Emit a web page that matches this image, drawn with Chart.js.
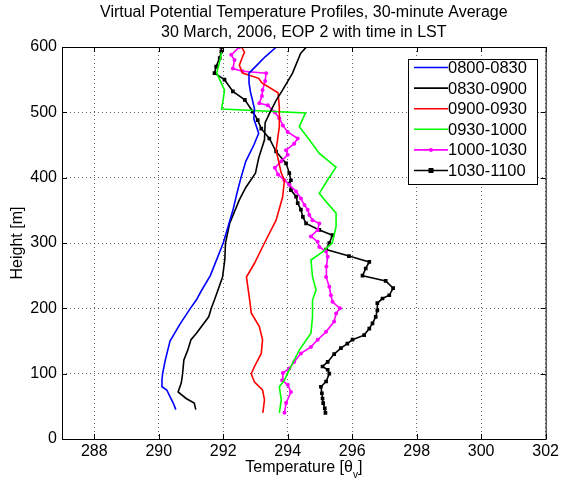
<!DOCTYPE html>
<html>
<head>
<meta charset="utf-8">
<script src="https://cdn.jsdelivr.net/npm/chart.js@4.4.0/dist/chart.umd.min.js"></script>
<style>
  html, body { margin: 0; padding: 0; background: #fff; }
</style>
</head>
<body>
<canvas id="myChart" width="562" height="483"></canvas>
<script>
// series names and colours
const seriesNames = ['0800-0830', '0830-0900', '0900-0930', '0930-1000', '1000-1030', '1030-1100'];
const seriesColors = ['#0000ff', '#000000', '#ff0000', '#00ff00', '#ff00ff', '#000000'];

const xTicks = [288, 290, 292, 294, 296, 298, 300, 302];
const yTicks = [0, 100, 200, 300, 400, 500, 600];

// height [m] / temperature pairs
const h0800 = [45, 55, 65, 75, 80, 90, 100, 120, 150, 175, 200, 213, 225, 250, 275, 300, 325, 350, 375, 400, 425, 450, 468, 490, 505, 520, 530, 545, 560, 575, 585, 600];
const t0800 = [290.53, 290.45, 290.35, 290.25, 290.1, 290.1, 290.12, 290.2, 290.35, 290.65, 290.98, 291.17, 291.3, 291.6, 291.8, 292.0, 292.15, 292.3, 292.42, 292.55, 292.7, 292.95, 293.1, 292.95, 292.97, 292.9, 292.85, 292.8, 292.8, 293.1, 293.3, 293.65];

const h0830 = [45, 55, 62, 72, 86, 100, 121, 136, 152, 162, 187, 200, 213, 248, 275, 300, 330, 366, 385, 407, 430, 458, 484, 500, 519, 534, 560, 590, 600];
const t0830 = [291.15, 291.1, 290.85, 290.6, 290.7, 290.74, 290.78, 290.9, 291.0, 291.17, 291.55, 291.63, 291.73, 291.98, 292.05, 292.07, 292.2, 292.5, 292.7, 293.0, 293.1, 293.28, 293.3, 293.45, 293.65, 293.84, 294.15, 294.4, 294.58];

const h0900 = [40, 60, 75, 87, 100, 111, 131, 152, 172, 193, 213, 248, 269, 300, 335, 370, 396, 407, 442, 478, 508, 530, 545, 552, 560, 572, 585, 592, 600];
const t0900 = [293.23, 293.28, 293.22, 292.97, 292.87, 292.97, 293.18, 293.22, 293.12, 292.87, 292.82, 292.72, 292.97, 293.28, 293.64, 293.84, 293.9, 293.8, 293.64, 293.74, 293.74, 293.7, 293.2, 293.1, 292.6, 292.5, 292.6, 292.66, 292.57];

const h0930 = [40, 60, 80, 90, 111, 136, 162, 187, 213, 228, 248, 274, 286, 300, 325, 346, 361, 376, 396, 416, 437, 458, 478, 499, 505, 520, 534, 560, 580, 592];
const t0930 = [293.74, 293.8, 293.74, 293.9, 294.1, 294.36, 294.72, 294.77, 294.77, 294.88, 294.77, 294.72, 295.07, 295.38, 295.5, 295.5, 295.23, 294.98, 295.23, 295.5, 294.98, 294.67, 294.36, 294.55, 291.95, 292.0, 292.04, 291.8, 291.9, 291.95];

const h1000 = [40, 55, 72, 83, 90, 101, 108, 118, 131, 141, 152, 164, 180, 192, 200, 210, 220, 233, 248, 264, 279, 287, 294, 302, 310, 320, 330, 335, 343, 351, 358, 368, 379, 389, 396, 405, 415, 425, 435, 442, 452, 460, 470, 480, 491, 500, 511, 514, 525, 534, 548, 560, 563, 567, 580, 588, 600];
const t1000 = [293.9, 293.95, 294.1, 294.0, 293.83, 293.85, 294.05, 294.2, 294.41, 294.72, 294.93, 295.19, 295.44, 295.5, 295.62, 295.39, 295.34, 295.29, 295.19, 295.2, 295.24, 295.19, 294.98, 294.93, 294.72, 294.93, 294.98, 294.77, 294.67, 294.62, 294.52, 294.41, 294.26, 294.05, 293.9, 293.7, 293.6, 293.8, 294.0, 293.95, 294.2, 294.31, 294.0, 293.85, 293.74, 293.6, 293.38, 293.12, 293.2, 293.22, 293.3, 293.33, 292.6, 292.3, 292.35, 292.25, 292.5];

const h1030 = [40, 47, 55, 62, 70, 80, 88, 100, 106, 111, 118, 130, 139, 146, 152, 159, 169, 177, 187, 197, 208, 215, 220, 231, 242, 250, 261, 271, 280, 290, 300, 312, 320, 330, 340, 351, 361, 371, 381, 391, 396, 407, 422, 440, 460, 475, 488, 501, 519, 532, 550, 560, 570, 583, 593, 600];
const t1030 = [295.17, 295.15, 295.1, 295.08, 295.06, 295.03, 295.19, 295.29, 295.24, 295.08, 295.24, 295.44, 295.65, 295.85, 296.01, 296.37, 296.53, 296.63, 296.73, 296.78, 296.78, 296.94, 297.15, 297.27, 297.04, 296.32, 296.42, 296.53, 295.9, 295.19, 295.29, 295.39, 294.98, 294.57, 294.47, 294.41, 294.31, 294.26, 294.1, 294.05, 294.1, 294.05, 293.95, 293.64, 293.43, 293.18, 293.07, 292.92, 292.67, 292.3, 292.04, 291.73, 291.78, 291.89, 291.94, 291.94];

const heights = [h0800, h0830, h0900, h0930, h1000, h1030];
const temps = [t0800, t0830, t0900, t0930, t1000, t1030];

const FONT = '"Liberation Sans", Arial, sans-serif';

function pts(t, h) {
  return t.map((v, i) => ({ x: v, y: h[i] }));
}

const markerStyle = [false, false, false, false, 'circle', 'rect'];

const datasets = seriesNames.map((name, i) => ({
  label: name,
  data: pts(temps[i], heights[i]),
  showLine: true,
  borderColor: seriesColors[i],
  backgroundColor: seriesColors[i],
  borderWidth: 1.6,
  tension: 0,
  pointStyle: markerStyle[i] || 'circle',
  pointRadius: markerStyle[i] === 'rect' ? 2.6 : (markerStyle[i] ? 2 : 0),
  pointBorderWidth: 0,
  pointHoverRadius: 0
}));

// title, axis labels, box with inward ticks and matlab style legend
const decorations = {
  id: 'decorations',
  afterDraw(chart) {
    const c = chart.ctx;
    const a = chart.chartArea;
    const xs = chart.scales.x, ys = chart.scales.y;
    const cx = (a.left + a.right) / 2;
    c.save();
    c.fillStyle = '#000';
    c.textAlign = 'center';
    c.textBaseline = 'middle';
    c.font = '16px ' + FONT;
    c.fillText('Virtual Potential Temperature Profiles, 30-minute Average', cx, 13);
    c.fillText('30 March, 2006, EOP 2 with time in LST', cx, 33);

    // x label with subscript
    const p1 = 'Temperature [\u03b8', p2 = ']';
    c.font = '10px ' + FONT;
    const wv = c.measureText('v').width;
    c.font = '16px ' + FONT;
    const w1 = c.measureText(p1).width, w2 = c.measureText(p2).width;
    let x0 = cx - (w1 + wv + w2) / 2;
    c.textAlign = 'left';
    c.fillText(p1, x0, 468);
    c.font = '10px ' + FONT;
    c.fillText('v', x0 + w1, 475);
    c.font = '16px ' + FONT;
    c.fillText(p2, x0 + w1 + wv, 468);

    // y label
    c.save();
    c.translate(18, 243);
    c.rotate(-Math.PI / 2);
    c.textAlign = 'center';
    c.fillText('Height [m]', 0, 0);
    c.restore();

    // frame and inward ticks
    c.strokeStyle = '#000';
    c.lineWidth = 1;
    c.strokeRect(a.left + 0.5, a.top + 0.5, a.right - a.left, a.bottom - a.top);
    c.beginPath();
    xTicks.forEach(v => {
      const px = Math.round(xs.getPixelForValue(v)) + 0.5;
      c.moveTo(px, a.bottom); c.lineTo(px, a.bottom - 5);
      c.moveTo(px, a.top); c.lineTo(px, a.top + 5);
    });
    yTicks.forEach(v => {
      const py = Math.round(ys.getPixelForValue(v)) + 0.5;
      c.moveTo(a.left, py); c.lineTo(a.left + 5, py);
      c.moveTo(a.right, py); c.lineTo(a.right - 5, py);
    });
    c.stroke();

    // legend
    const lx = 408, ly = 59, lw = 129, lh = 125;
    c.fillStyle = '#fff';
    c.fillRect(lx, ly, lw, lh);
    c.strokeRect(lx + 0.5, ly + 0.5, lw, lh);
    c.font = '16.5px ' + FONT;
    c.textAlign = 'left';
    chart.data.datasets.forEach((ds, i) => {
      const yy = 67.5 + i * 20.6;
      c.strokeStyle = ds.borderColor;
      c.lineWidth = 1.6;
      c.beginPath();
      c.moveTo(414, yy); c.lineTo(448, yy);
      c.stroke();
      c.fillStyle = ds.borderColor;
      if (markerStyle[i] === 'circle') {
        c.beginPath(); c.arc(431, yy, 2, 0, Math.PI * 2); c.fill();
      } else if (markerStyle[i] === 'rect') {
        c.fillRect(428.5, yy - 2.5, 5, 5);
      }
      c.fillStyle = '#000';
      c.fillText(ds.label, 448, yy + 1);
    });
    c.restore();
  }
};

const ctx = document.getElementById('myChart');

new Chart(ctx, {
  type: 'scatter',
  data: { datasets: datasets },
  options: {
    responsive: false,
    animation: false,
    events: [],
    layout: { padding: { top: 47, right: 15, left: 0, bottom: 0 } },
    plugins: {
      legend: { display: false },
      tooltip: { enabled: false },
      title: { display: false }
    },
    scales: {
      x: {
        type: 'linear',
        min: 287,
        max: 302,
        afterBuildTicks: s => { s.ticks = xTicks.map(v => ({ value: v })); },
        afterFit: s => { s.height = 44; },
        grid: { color: 'rgba(0,0,0,0.6)', drawTicks: false, lineWidth: 1 },
        border: { display: false, dash: [1, 3] },
        ticks: { color: '#000', font: { family: FONT, size: 16 }, padding: 3, maxRotation: 0 }
      },
      y: {
        type: 'linear',
        min: 0,
        max: 600,
        afterBuildTicks: s => { s.ticks = yTicks.map(v => ({ value: v })); },
        afterFit: s => { s.width = 62; },
        grid: { color: 'rgba(0,0,0,0.6)', drawTicks: false, lineWidth: 1 },
        border: { display: false, dash: [1, 3] },
        ticks: { color: '#000', font: { family: FONT, size: 16 }, padding: 5 }
      }
    }
  },
  plugins: [decorations]
});
</script>
</body>
</html>
